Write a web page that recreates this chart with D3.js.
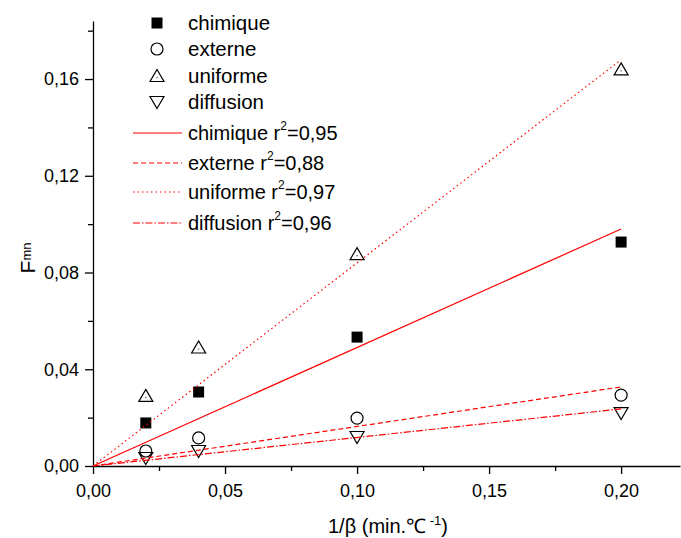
<!DOCTYPE html>
<html><head><meta charset="utf-8">
<script src="https://cdn.jsdelivr.net/npm/d3@7"></script>
<style>body{margin:0;background:#fff}svg{display:block}text{font-family:"Liberation Sans",Arial,sans-serif}</style>
</head><body>
<script>
const xValues = [0.02, 0.04, 0.10, 0.20];
const chimique = [0.0178, 0.0306, 0.0533, 0.0926];
const externe = [0.0062, 0.0116, 0.0198, 0.0293];
const uniforme = [0.029, 0.049, 0.0876, 0.164];
const diffusion = [0.0033, 0.0062, 0.012, 0.0219];
const fitX = [0, 0.20];
const fitChimique = [0, 0.098];
const fitExterne = [0, 0.0327];
const fitUniforme = [0, 0.168];
const fitDiffusion = [0, 0.0236];
const xTicks = ["0,00","0,05","0,10","0,15","0,20"];
const yTicks = ["0,00","0,04","0,08","0,12","0,16"];

const W=681,H=538;
const svg=d3.select("body").append("svg").attr("width",W).attr("height",H);
const x=d3.scaleLinear().domain([0,0.2223]).range([93,680]);
const y=d3.scaleLinear().domain([0,0.184]).range([466,21]);

// axes
const xAxis=d3.axisBottom(x).tickValues([0,0.05,0.10,0.15,0.20]).tickFormat((d,i)=>xTicks[i]).tickSize(8).tickSizeOuter(0);
const gx=svg.append("g").attr("transform","translate(0,466)").call(xAxis);
gx.selectAll("text").attr("font-size",18).attr("dy","1.1em").attr("fill","#000");
svg.append("g").attr("transform","translate(0,466)").call(d3.axisBottom(x).tickValues([0.025,0.075,0.125,0.175]).tickFormat("").tickSize(5).tickSizeOuter(0)).select(".domain").remove();
const yAxis=d3.axisLeft(y).tickValues([0,0.04,0.08,0.12,0.16]).tickFormat((d,i)=>yTicks[i]).tickSize(8).tickSizeOuter(0);
const gy=svg.append("g").attr("transform","translate(93,0)").call(yAxis);
gy.selectAll("text").attr("font-size",18).attr("fill","#000").attr("x",-14);
svg.append("g").attr("transform","translate(93,0)").call(d3.axisLeft(y).tickValues([0.02,0.06,0.10,0.14,0.18]).tickFormat("").tickSize(5).tickSizeOuter(0)).select(".domain").remove();
svg.selectAll(".domain,.tick line").attr("stroke","#000").attr("stroke-width",1.3);

// axis labels
const xl=svg.append("text").attr("x",388).attr("y",533).attr("text-anchor","middle").attr("font-size",20);
xl.append("tspan").text("1/β (min.℃");
xl.append("tspan").attr("dy",-8).attr("font-size",13).text(" -1");
xl.append("tspan").attr("dy",8).text(")");
const yl=svg.append("text").attr("transform","translate(35,258) rotate(-90)").attr("text-anchor","middle").attr("font-size",21);
yl.append("tspan").text("F");
yl.append("tspan").attr("dy",-4).attr("font-size",13).text("mn");

// markers
const sym={
 sq:(g)=>g.append("rect").attr("x",-5.5).attr("y",-5.5).attr("width",11).attr("height",11).attr("fill","#000"),
 ci:(g)=>g.append("circle").attr("r",6).attr("fill","none").attr("stroke","#000").attr("stroke-width",1.2),
 up:(g)=>{g.append("path").attr("d","M0,-6.5L7,5.5L-7,5.5Z").attr("fill","none").attr("stroke","#000").attr("stroke-width",1.2);g.append("circle").attr("r",0.6).attr("cy",1.5).attr("fill","#000");},
 dn:(g)=>g.append("path").attr("d","M0,6.5L7,-5.5L-7,-5.5Z").attr("fill","none").attr("stroke","#000").attr("stroke-width",1.2)
};
const series=[
 {name:"chimique",vals:chimique,s:"sq"},
 {name:"externe",vals:externe,s:"ci"},
 {name:"uniforme",vals:uniforme,s:"up"},
 {name:"diffusion",vals:diffusion,s:"dn"}];
series.forEach(se=>{
 se.vals.forEach((v,i)=>{
  const g=svg.append("g").attr("transform",`translate(${x(xValues[i])},${y(v)})`);
  sym[se.s](g);
 });
});

// fits
const fits=[
 {name:"chimique r",r:"=0,95",vals:fitChimique,dash:null},
 {name:"externe r",r:"=0,88",vals:fitExterne,dash:"5,3"},
 {name:"uniforme r",r:"=0,97",vals:fitUniforme,dash:"1.5,3"},
 {name:"diffusion r",r:"=0,96",vals:fitDiffusion,dash:"7,2,1.5,2"}];
const line=d3.line().x((d,i)=>x(fitX[i])).y(d=>y(d));
fits.forEach(f=>{
 svg.append("path").attr("d",line(f.vals)).attr("fill","none").attr("stroke","#ff0000").attr("stroke-width",1.2).attr("stroke-dasharray",f.dash);
});

// legend
const rows1=[23,49,76,102];
series.forEach((se,i)=>{
 const g=svg.append("g").attr("transform",`translate(157,${rows1[i]})`);
 sym[se.s](g);
 svg.append("text").attr("x",188).attr("y",rows1[i]+7).attr("font-size",20.5).text(se.name);
});
const rows2=[133,163,192,223];
fits.forEach((f,i)=>{
 svg.append("line").attr("x1",133).attr("x2",182).attr("y1",rows2[i]).attr("y2",rows2[i]).attr("stroke","#ff0000").attr("stroke-width",1.2).attr("stroke-dasharray",f.dash);
 const t=svg.append("text").attr("x",188).attr("y",rows2[i]+7).attr("font-size",20);
 t.append("tspan").text(f.name);
 t.append("tspan").attr("dy",-10).attr("font-size",12).text("2");
 t.append("tspan").attr("dy",10).text(f.r);
});
</script>
</body></html>
